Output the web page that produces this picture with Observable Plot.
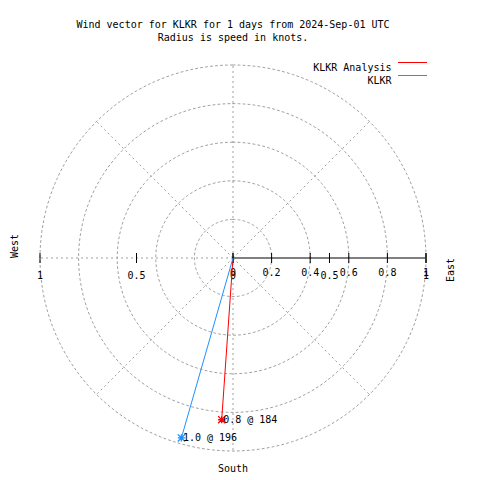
<!DOCTYPE html>
<html>
<head>
<meta charset="utf-8">
<script src="https://cdn.jsdelivr.net/npm/d3@7"></script>
<script src="https://cdn.jsdelivr.net/npm/@observablehq/plot@0.6"></script>
<style>
  html, body { margin: 0; padding: 0; background: #fff; }
  svg { display: block; }
</style>
</head>
<body>
<div id="chart"></div>
<script>
// ---- data ----
const titleLines = ["Wind vector for KLKR for 1 days from 2024-Sep-01 UTC", "Radius is speed in knots."];
const seriesNames = ["KLKR Analysis", "KLKR"];
const seriesColors = ["#ff0000", "#1e90ff"];
const speeds = [0.84, 0.97];          // knots (radius)
const directions = [184, 196];        // degrees, compass bearing
const pointLabels = ["0.8 @ 184", "1.0 @ 196"];
const circleRadii = [0.2, 0.4, 0.6, 0.8, 1.0];
const spokeAngles = [0, 45, 90, 135, 180, 225, 270, 315];
const rTicks = [0, 0.2, 0.4, 0.6, 0.8, 1.0];
const rTickLabels = ["0", "0.2", "0.4", "0.6", "0.8", "1"];
const xTicks = [-1, -0.5, 0, 0.5, 1];
const xTickLabels = ["1", "0.5", "0", "0.5", "1"];
const compassLabels = {west: "West", east: "East", south: "South"};

// ---- derived tables ----
const rad = d => d * Math.PI / 180;
const vectors = seriesNames.map((name, i) => ({
  name, color: seriesColors[i], label: pointLabels[i],
  x: speeds[i] * Math.sin(rad(directions[i])),
  y: speeds[i] * Math.cos(rad(directions[i]))
}));
const circlePts = circleRadii.flatMap(r => d3.range(0, 361, 2).map(a => ({r, x: r * Math.sin(rad(a)), y: r * Math.cos(rad(a))})));
const spokes = spokeAngles.map(a => ({x: Math.sin(rad(a)), y: Math.cos(rad(a)), a}));
const rTickRows = rTicks.map((v, i) => ({v, label: rTickLabels[i]}));
const xTickRows = xTicks.map((v, i) => ({v, label: xTickLabels[i]}));

const font = "DejaVu Sans Mono";
const fs = 10;
const grey = "#a0a0a0";

const star = {
  draw(ctx, size) {
    const r = Math.sqrt(size / Math.PI);
    ctx.moveTo(-r, 0); ctx.lineTo(r, 0);
    ctx.moveTo(0, -r); ctx.lineTo(0, r);
    ctx.moveTo(-r, -r); ctx.lineTo(r, r);
    ctx.moveTo(-r, r); ctx.lineTo(r, -r);
  }
};
const tickSym = {
  draw(ctx, size) {
    ctx.moveTo(0, -5); ctx.lineTo(0, 5);
  }
};

const plot = Plot.plot({
  width: 480,
  height: 480,
  marginLeft: 39.5,
  marginRight: 54.5,
  marginTop: 64.5,
  marginBottom: 29.5,
  x: {domain: [-1, 1], axis: null},
  y: {domain: [-1, 1], axis: null},
  style: {background: "#fff", color: "#000"},
  marks: [
    // grid circles
    Plot.line(circlePts, {x: "x", y: "y", z: "r", stroke: grey, strokeWidth: 1, strokeDasharray: "2,3"}),
    // spokes
    Plot.link(spokes.filter(d => d.a !== 90), {x1: 0, y1: 0, x2: "x", y2: "y", stroke: grey, strokeWidth: 1, strokeDasharray: "2,3"}),
    // r axis
    Plot.ruleY([0], {x1: 0, x2: 1, stroke: "#000", strokeWidth: 1}),
    Plot.dot(rTicks, {x: d => d, y: 0, symbol: tickSym, stroke: "#000", strokeWidth: 1, r: 3}),
    Plot.dot(xTicks, {x: d => d, y: 0, symbol: tickSym, stroke: "#000", strokeWidth: 1, r: 3}),
    Plot.text(rTickRows, {x: "v", y: 0, text: "label", dy: 14.5, fontFamily: font, fontSize: fs, fill: "#000"}),
    Plot.text(xTickRows, {x: "v", y: 0, text: "label", dy: 17.5, fontFamily: font, fontSize: fs, fill: "#000"}),
    // wind vectors
    Plot.link(vectors, {x1: 0, y1: 0, x2: "x", y2: "y", stroke: "color", strokeWidth: 1}),
    Plot.dot(vectors, {x: "x", y: "y", symbol: star, stroke: "color", strokeWidth: 1.3, r: 3.6}),
    Plot.text(vectors, {x: "x", y: "y", text: "label", textAnchor: "start", dx: 1.5, fontFamily: font, fontSize: fs, fill: "#000"}),
    // titles
    Plot.text([titleLines[0]], {frameAnchor: "top", dy: -44.5, fontFamily: font, fontSize: fs, fill: "#000"}),
    Plot.text([titleLines[1]], {frameAnchor: "top", dy: -31.5, fontFamily: font, fontSize: fs, fill: "#000"}),
    // compass labels
    Plot.text([compassLabels.south], {frameAnchor: "bottom", dy: 20.5, fontFamily: font, fontSize: fs, fill: "#000"}),
    Plot.text([compassLabels.west], {frameAnchor: "left", dx: -25.5, rotate: -90, fontFamily: font, fontSize: fs, fill: "#000"}),
    Plot.text([compassLabels.east], {frameAnchor: "right", dx: 24.5, rotate: -90, fontFamily: font, fontSize: fs, fill: "#000"}),
    // legend text
    ...seriesNames.map((name, i) => Plot.text([name], {frameAnchor: "top-right", textAnchor: "end", dx: -34.5, dy: -1.5 + 13 * i, fontFamily: font, fontSize: fs, fill: "#000"}))
  ]
});

// legend swatches
const svg = d3.select(plot);
seriesNames.forEach((name, i) => {
  svg.append("line")
    .attr("x1", 398).attr("x2", 427)
    .attr("y1", 62.5 + 13 * i).attr("y2", 62.5 + 13 * i)
    .attr("stroke", seriesColors[i]).attr("stroke-width", 1);
});

document.getElementById("chart").appendChild(plot);
</script>
</body>
</html>
